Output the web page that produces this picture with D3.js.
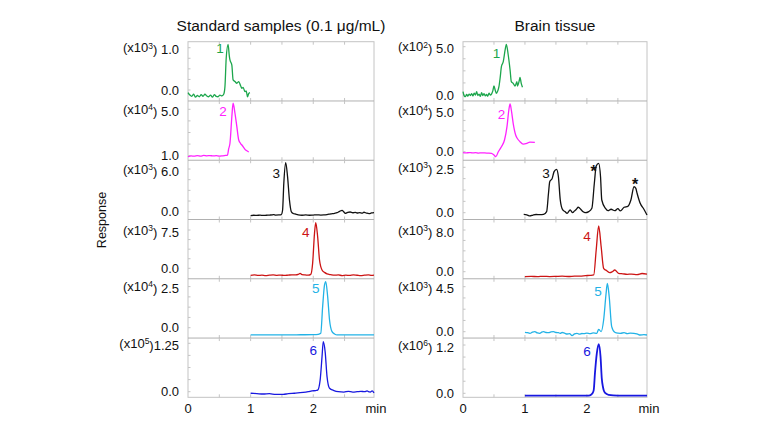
<!DOCTYPE html>
<html><head><meta charset="utf-8">
<script src="https://cdn.jsdelivr.net/npm/d3@7"></script>
<style>body{margin:0;background:#fff} text{font-family:"Liberation Sans",Arial,sans-serif;fill:#111}</style>
</head><body><svg id="c" width="768" height="432"></svg>
<script>
// ---------- data (time in min, response in scaled units) ----------
const std1 = [[0,-0.06],[0.03,-0.12],[0.06,-0.15],[0.09,-0.1],[0.12,-0.17],[0.15,-0.13],[0.18,-0.16],[0.21,-0.11],[0.24,-0.15],[0.27,-0.1],[0.3,-0.14],[0.33,-0.16],[0.36,-0.12],[0.39,-0.17],[0.42,-0.11],[0.45,-0.15],[0.48,-0.16],[0.51,-0.12],[0.54,-0.14],[0.57,-0.1],[0.59,0.08],[0.61,0.75],[0.64,1.08],[0.66,0.8],[0.67,0.71],[0.70,0.59],[0.72,0.24],[0.75,0.2],[0.78,0.16],[0.81,0.2],[0.84,0.1],[0.86,0.04],[0.88,0.06],[0.91,-0.04],[0.93,-0.02],[0.95,-0.16],[0.97,-0.08],[0.99,-0.06]];
const std2 = [[0,0.91],[0.05,0.98],[0.1,0.96],[0.15,1.0],[0.2,0.97],[0.25,1.02],[0.3,0.99],[0.35,1.01],[0.4,0.98],[0.45,1.0],[0.5,0.97],[0.55,0.99],[0.6,1.02],[0.63,1.05],[0.65,1.6],[0.67,2.07],[0.70,4.36],[0.72,5.52],[0.75,4.66],[0.78,3.5],[0.81,2.35],[0.84,2.05],[0.86,1.92],[0.89,1.7],[0.91,1.55],[0.94,1.42],[0.97,1.32]];
const std3 = [[1.0,-0.56],[1.05,-0.5],[1.1,-0.52],[1.15,-0.48],[1.2,-0.53],[1.25,-0.5],[1.3,-0.47],[1.35,-0.44],[1.37,-0.4],[1.4,-0.48],[1.45,-0.46],[1.49,-0.4],[1.51,0.2],[1.53,4.0],[1.56,6.88],[1.59,4.9],[1.62,1.64],[1.65,0.0],[1.68,-0.25],[1.71,-0.32],[1.76,-0.45],[1.82,-0.5],[1.88,-0.46],[1.94,-0.5],[2.0,-0.47],[2.06,-0.44],[2.12,-0.48],[2.17,-0.46],[2.22,-0.4],[2.28,-0.3],[2.34,-0.22],[2.38,-0.14],[2.42,0.05],[2.46,0.19],[2.49,-0.05],[2.51,-0.23],[2.55,-0.1],[2.59,-0.04],[2.63,-0.15],[2.67,-0.1],[2.70,-0.18],[2.74,-0.12],[2.78,-0.2],[2.81,-0.08],[2.85,-0.2],[2.89,-0.27],[2.93,-0.18],[2.97,-0.13]];
const std4 = [[1.0,-1.37],[1.06,-1.3],[1.12,-1.4],[1.18,-1.33],[1.24,-1.42],[1.3,-1.35],[1.36,-1.3],[1.42,-1.38],[1.48,-1.32],[1.54,-1.4],[1.6,-1.34],[1.66,-1.28],[1.72,-1.3],[1.76,-1.2],[1.79,-1.0],[1.82,-1.25],[1.87,-1.3],[1.92,-1.35],[1.96,-1.2],[1.99,0.97],[2.02,6.85],[2.04,8.93],[2.07,6.2],[2.10,1.62],[2.14,-0.33],[2.18,-0.8],[2.22,-1.1],[2.28,-1.25],[2.34,-1.35],[2.4,-1.3],[2.46,-1.42],[2.52,-1.35],[2.58,-1.4],[2.64,-1.3],[2.7,-1.36],[2.76,-1.42],[2.82,-1.35],[2.88,-1.3],[2.93,-1.38],[2.97,-1.34]];
const std5 = [[1.0,-0.44],[1.2,-0.44],[1.4,-0.44],[1.6,-0.44],[1.8,-0.43],[2.0,-0.42],[2.08,-0.4],[2.12,-0.34],[2.15,1.28],[2.18,2.6],[2.20,2.8],[2.23,1.89],[2.26,0.47],[2.30,-0.24],[2.34,-0.38],[2.38,-0.44],[2.6,-0.44],[2.8,-0.44],[2.97,-0.44]];
const std6 = [[1.0,-0.04],[1.1,-0.05],[1.2,-0.06],[1.3,-0.05],[1.4,-0.07],[1.52,-0.07],[1.6,-0.05],[1.7,-0.04],[1.84,-0.02],[1.92,0.0],[1.98,0.02],[2.04,0.03],[2.07,0.04],[2.11,0.3],[2.14,0.9],[2.16,1.29],[2.19,1.03],[2.22,0.39],[2.26,0.09],[2.33,0.03],[2.4,0.0],[2.49,-0.01],[2.56,0.01],[2.63,-0.01],[2.70,0.0],[2.76,0.01],[2.82,0.0],[2.86,0.02],[2.88,0.0],[2.91,-0.01],[2.94,0.02],[2.97,-0.03]];

const brain1 = [[0,0.34],[0.02,-0.1],[0.04,-0.17],[0.06,0.05],[0.08,-0.12],[0.1,0.1],[0.12,-0.05],[0.14,0.15],[0.16,-0.1],[0.18,0.2],[0.2,0.0],[0.22,0.35],[0.24,-0.05],[0.26,0.1],[0.28,-0.15],[0.30,0.25],[0.32,-0.05],[0.34,0.15],[0.36,-0.1],[0.38,0.05],[0.40,-0.12],[0.42,0.2],[0.44,0.0],[0.46,0.1],[0.48,0.4],[0.50,0.93],[0.52,0.5],[0.54,0.17],[0.56,0.4],[0.58,0.86],[0.60,1.8],[0.62,2.93],[0.65,3.45],[0.68,4.66],[0.70,5.25],[0.73,4.14],[0.76,2.59],[0.78,1.38],[0.81,1.21],[0.84,0.93],[0.87,1.38],[0.88,0.93],[0.91,1.55],[0.92,1.83],[0.94,1.21],[0.96,0.8]];
const brain2 = [[0,-0.12],[0.05,-0.15],[0.1,-0.1],[0.15,-0.14],[0.2,-0.12],[0.25,-0.16],[0.3,-0.13],[0.35,-0.15],[0.4,-0.17],[0.46,-0.2],[0.50,-0.4],[0.53,-0.6],[0.57,0.0],[0.62,0.6],[0.67,1.4],[0.71,3.0],[0.74,5.0],[0.76,5.72],[0.78,5.0],[0.81,3.4],[0.85,2.0],[0.88,1.55],[0.92,1.2],[0.97,0.92],[1.03,1.0],[1.08,1.16],[1.16,1.12]];
const brain3 = [[0.98,-0.09],[1.03,-0.12],[1.08,-0.18],[1.13,-0.13],[1.18,-0.1],[1.24,-0.11],[1.30,-0.09],[1.35,0.06],[1.38,1.07],[1.40,1.71],[1.44,1.89],[1.47,2.26],[1.51,2.39],[1.54,1.98],[1.57,0.7],[1.61,0.15],[1.65,0.05],[1.68,-0.04],[1.73,0.15],[1.77,0.0],[1.80,0.1],[1.83,0.19],[1.86,0.3],[1.91,0.15],[1.94,0.05],[1.97,0.0],[2.03,0.06],[2.08,0.24],[2.12,1.62],[2.15,2.57],[2.19,2.72],[2.22,1.98],[2.24,0.7],[2.30,0.24],[2.34,0.11],[2.39,0.19],[2.45,0.11],[2.50,0.22],[2.54,0.1],[2.60,0.3],[2.66,0.35],[2.71,0.7],[2.76,1.43],[2.79,1.34],[2.81,1.07],[2.86,0.52],[2.92,0.19],[2.97,-0.13]];
const brain4 = [[1.0,-0.96],[1.1,-0.9],[1.2,-0.95],[1.3,-0.88],[1.4,-0.93],[1.5,-0.9],[1.6,-0.86],[1.7,-0.92],[1.8,-0.85],[1.89,-0.83],[1.98,-0.75],[2.05,-0.7],[2.11,-0.63],[2.15,4.17],[2.19,8.77],[2.23,4.8],[2.27,0.65],[2.32,0.19],[2.37,-0.19],[2.41,0.0],[2.45,0.33],[2.51,-0.31],[2.58,-0.4],[2.65,-0.5],[2.72,-0.45],[2.81,-0.55],[2.89,-0.35],[2.97,-0.45]];
const brain5 = [[1.0,-0.06],[1.04,-0.1],[1.08,-0.16],[1.12,-0.05],[1.16,0.0],[1.2,-0.12],[1.24,-0.16],[1.27,-0.05],[1.30,0.0],[1.34,-0.08],[1.38,-0.1],[1.42,-0.02],[1.46,0.0],[1.5,-0.08],[1.54,-0.1],[1.57,-0.16],[1.6,-0.08],[1.64,-0.15],[1.68,-0.23],[1.72,-0.2],[1.76,-0.4],[1.8,-0.22],[1.84,-0.16],[1.88,-0.25],[1.92,-0.18],[1.95,-0.2],[2.0,-0.15],[2.05,-0.2],[2.1,-0.12],[2.16,-0.16],[2.19,0.24],[2.23,0.0],[2.27,1.17],[2.31,3.84],[2.33,4.84],[2.36,3.5],[2.40,0.5],[2.45,-0.06],[2.5,-0.15],[2.54,-0.16],[2.6,-0.1],[2.65,-0.2],[2.7,-0.15],[2.76,-0.16],[2.82,-0.25],[2.86,-0.33],[2.92,-0.3],[2.97,-0.33]];
const brain6 = [[1.0,-0.06],[1.5,-0.06],[2.0,-0.06],[2.05,-0.05],[2.09,0.0],[2.11,0.08],[2.13,0.5],[2.16,0.99],[2.19,1.22],[2.22,0.91],[2.24,0.37],[2.26,0.15],[2.28,0.04],[2.32,-0.02],[2.35,-0.04],[2.5,-0.06],[2.97,-0.06]];

// y tick values per panel [bottom, top] and the power-of-ten exponent
const stdTickVals   = [[0,1.0],[1.0,5.0],[0,6.0],[0,7.5],[0,2.5],[0,1.25]];
const stdExp        = [3,4,3,3,4,5];
const brainTickVals = [[0,5.0],[0,5.0],[0,2.5],[0,8.0],[0,4.5],[0,1.2]];
const brainExp      = [2,4,3,3,3,6];

// peak labels: [text, time, value]
const stdPeakLabels   = [["1",0.51,0.99],["2",0.56,4.85],["3",1.41,5.48],["4",1.88,7.16],["5",2.04,2.4],["6",2.0,1.08]];
const brainPeakLabels = [["1",0.54,4.35],["2",0.62,4.48],["3",1.34,2.17],["4",2.0,6.85],["5",2.18,4.07],["6",2.0,1.05]];
const brainStars      = [["*",2.11,2.3],["*",2.78,1.55]];

const xTickVals = [0,1,2];
const xTickLabels = ["0","1","2"];
const titles = ["Standard samples (0.1 μg/mL)","Brain tissue"];
const colors = ["#1ca64c","#ff22ff","#111111","#cc1414","#22b2e6","#1818e0"];

// ---------- layout ----------
const panelTop = 41.7, panelH = 59.27, nP = 6;
const sides = [
  {x0:188, x1:374, traces:[std1,std2,std3,std4,std5,std6], tv:stdTickVals, ex:stdExp, peaks:stdPeakLabels, stars:[],
   topY:[47.7,109.3,169,230,286.6,343.3], botY:[90,155.7,211.7,268.3,327.7,391.7], title:titles[0]},
  {x0:463, x1:647, traces:[brain1,brain2,brain3,brain4,brain5,brain6], tv:brainTickVals, ex:brainExp, peaks:brainPeakLabels, stars:brainStars,
   topY:[46.7,110,167.3,230,286.7,345], botY:[95,151.7,212.7,271.7,331.7,393.3], title:titles[1]}
];
const svg = d3.select("#c");
const gridC = "#c4c4c4";
const fmt = v => (Math.abs(v*10 - Math.round(v*10)) < 1e-9 ? v.toFixed(1) : String(v));
const tickFont = "13px";

sides.forEach((s, si) => {
  const x = d3.scaleLinear().domain([0, 2.97]).range([s.x0, s.x1]);
  const g = svg.append("g");
  g.append("text").attr("x", (s.x0+s.x1)/2).attr("y", 30.5).attr("text-anchor","middle")
    .style("font-size","15.5px").text(s.title);
  g.append("rect").attr("x", s.x0).attr("y", panelTop).attr("width", s.x1-s.x0).attr("height", nP*panelH)
    .attr("fill","none").attr("stroke", gridC).attr("stroke-width",1);
  for (let i = 0; i < nP; i++) {
    const top = panelTop + i*panelH, bot = top + panelH;
    if (i > 0) g.append("line").attr("x1", s.x0).attr("x2", s.x1).attr("y1", top).attr("y2", top)
      .attr("stroke", "#b0b0b0").attr("stroke-width", 1);
    d3.range(0.5, 2.9, 0.5).forEach(t => {
      g.append("line").attr("x1", x(t)).attr("x2", x(t)).attr("y1", bot).attr("y2", bot-3).attr("stroke", gridC);
      g.append("line").attr("x1", x(t)).attr("x2", x(t)).attr("y1", top).attr("y2", top+3).attr("stroke", gridC);
    });
    const [v0, v1] = s.tv[i];
    const y = d3.scaleLinear().domain([v0, v1]).range([s.botY[i], s.topY[i]]);
    d3.range(0, 5).forEach(k => {
      const vv = v0 + (v1 - v0) * k / 4;
      g.append("line").attr("x1", s.x0).attr("x2", s.x0+2.5).attr("y1", y(vv)).attr("y2", y(vv)).attr("stroke", gridC);
    });
    g.append("text").attr("x", s.x0 - 9).attr("y", y(v0)).attr("dy","0.36em").attr("text-anchor","end")
      .style("font-size",tickFont).text(fmt(v0));
    const tt = g.append("text").attr("x", s.x0 - 9).attr("y", y(v1)).attr("dy","0.36em").attr("text-anchor","end")
      .style("font-size",tickFont);
    tt.append("tspan").text("(x10");
    tt.append("tspan").attr("dy","-0.45em").style("font-size","8.5px").text(s.ex[i]);
    tt.append("tspan").attr("dy","0.45em").text(")" + (fmt(v1).length > 3 ? "" : " ") + fmt(v1));
    const line = d3.line().x(d => x(d[0])).y(d => y(d[1])).curve(d3.curveMonotoneX);
    g.append("path").datum(s.traces[i]).attr("d", line).attr("fill","none")
      .attr("stroke", colors[i]).attr("stroke-width", si === 1 && i === 5 ? 1.8 : 1.3).attr("stroke-linejoin","round");
    const p = s.peaks[i];
    g.append("text").attr("x", x(p[1])).attr("y", y(p[2])).attr("dy","0.36em").attr("text-anchor","middle")
      .style("font-size","13.5px").style("fill", colors[i]).text(p[0]);
    if (i === 2) s.stars.forEach(st => {
      g.append("text").attr("x", x(st[1])).attr("y", y(st[2])).attr("dy","0.36em").attr("text-anchor","middle")
        .style("font-size","16px").style("font-weight","bold").style("fill", "#111").text(st[0]);
    });
  }
  xTickVals.forEach((t, k) => {
    g.append("text").attr("x", x(t)).attr("y", 408).attr("dy","0.36em").attr("text-anchor","middle")
      .style("font-size",tickFont).text(xTickLabels[k]);
  });
  g.append("text").attr("x", s.x1 + 2).attr("y", 408).attr("dy","0.36em").attr("text-anchor","middle")
    .style("font-size",tickFont).text("min");
});

svg.append("text").attr("transform","translate(101,220) rotate(-90)").attr("text-anchor","middle")
  .attr("dy","0.36em").style("font-size","12.5px").text("Response");
</script></body></html>
